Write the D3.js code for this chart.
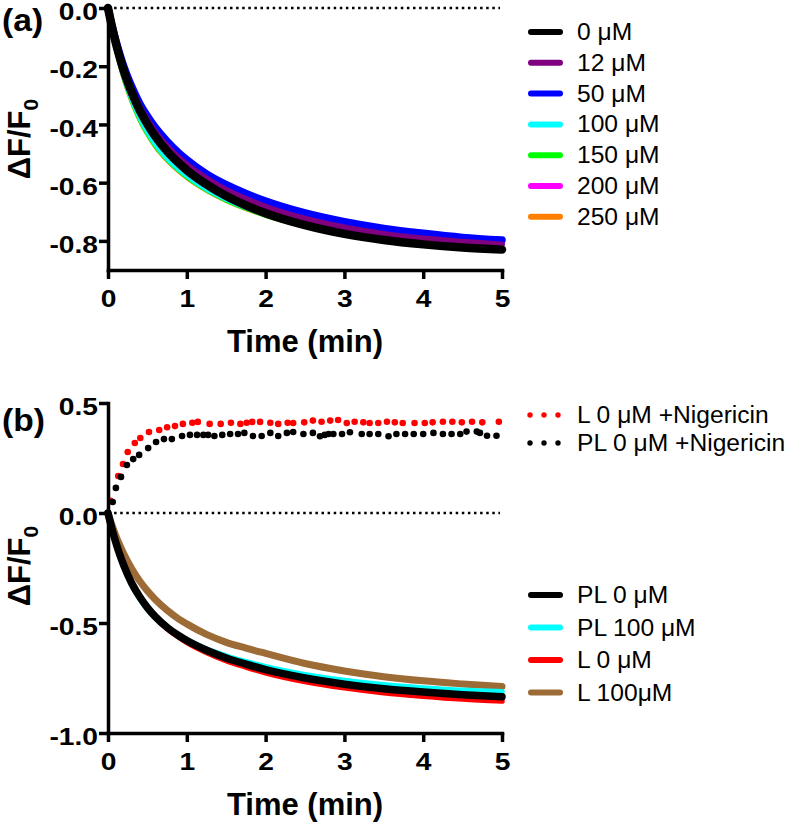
<!DOCTYPE html>
<html>
<head>
<meta charset="utf-8">
<script src="https://cdn.jsdelivr.net/npm/d3@7"></script>
<style>
  html, body { margin: 0; padding: 0; background: #fff; }
  svg { display: block; font-family: "Liberation Sans", Arial, Helvetica, sans-serif; }
</style>
</head>
<body>
<svg id="chart" width="787" height="825"></svg>
<script>
// ---------------- DATA ----------------
const TIME = [0, 0.05, 0.1, 0.15, 0.2, 0.3, 0.4, 0.5, 0.6, 0.75, 0.9, 1.0, 1.25, 1.5, 1.75, 2.0, 2.5, 3.0, 3.5, 4.0, 4.5, 5.0];

// Panel (a)
const a0uM   = [0, -0.064, -0.121, -0.170, -0.215, -0.289, -0.350, -0.399, -0.441, -0.492, -0.533, -0.557, -0.606, -0.646, -0.678, -0.705, -0.746, -0.776, -0.797, -0.812, -0.823, -0.830];
const a12uM  = [0, -0.062, -0.117, -0.164, -0.207, -0.279, -0.338, -0.385, -0.426, -0.475, -0.515, -0.538, -0.586, -0.625, -0.656, -0.683, -0.724, -0.754, -0.776, -0.792, -0.803, -0.812];
const a50uM  = [0, -0.060, -0.112, -0.158, -0.200, -0.269, -0.326, -0.371, -0.410, -0.458, -0.498, -0.521, -0.570, -0.607, -0.637, -0.663, -0.704, -0.734, -0.757, -0.774, -0.788, -0.797];
const a100uM = [0, -0.072, -0.134, -0.187, -0.234, -0.312, -0.375, -0.425, -0.467, -0.516, -0.554, -0.576, -0.622, -0.657, -0.686, -0.710, -0.748, -0.776, -0.795, -0.809, -0.818, -0.824];
const a150uM = [0, -0.073, -0.136, -0.190, -0.238, -0.316, -0.380, -0.430, -0.472, -0.520, -0.558, -0.580, -0.625, -0.660, -0.688, -0.712, -0.749, -0.776, -0.795, -0.809, -0.818, -0.825];
const a200uM = [0, -0.068, -0.128, -0.180, -0.226, -0.302, -0.364, -0.414, -0.456, -0.506, -0.545, -0.568, -0.615, -0.652, -0.682, -0.707, -0.746, -0.775, -0.794, -0.808, -0.817, -0.823];
const a250uM = [0, -0.074, -0.138, -0.192, -0.240, -0.318, -0.382, -0.432, -0.474, -0.522, -0.560, -0.582, -0.626, -0.661, -0.689, -0.712, -0.749, -0.776, -0.795, -0.809, -0.818, -0.824];
const legendA = ["0 μM", "12 μM", "50 μM", "100 μM", "150 μM", "200 μM", "250 μM"];

// Panel (b) lines
const bPL0   = [0, -0.072, -0.135, -0.190, -0.238, -0.318, -0.380, -0.430, -0.471, -0.520, -0.558, -0.580, -0.624, -0.659, -0.687, -0.712, -0.750, -0.778, -0.799, -0.814, -0.826, -0.835];
const bPL100 = [0, -0.075, -0.140, -0.196, -0.245, -0.326, -0.388, -0.437, -0.476, -0.522, -0.557, -0.577, -0.618, -0.650, -0.676, -0.699, -0.735, -0.761, -0.781, -0.795, -0.806, -0.812];
const bL0    = [0, -0.072, -0.135, -0.190, -0.238, -0.319, -0.382, -0.433, -0.475, -0.526, -0.565, -0.588, -0.634, -0.671, -0.700, -0.726, -0.766, -0.795, -0.817, -0.833, -0.846, -0.855];
const bL100  = [0, -0.054, -0.103, -0.146, -0.185, -0.252, -0.308, -0.354, -0.393, -0.442, -0.482, -0.504, -0.552, -0.588, -0.614, -0.638, -0.684, -0.718, -0.744, -0.763, -0.777, -0.789];
const legendBlines = ["PL 0 μM", "PL 100 μM", "L 0 μM", "L 100μM"];

// Panel (b) nigericin points
const nigL0Time = [0.03, 0.13, 0.19, 0.25, 0.34, 0.41, 0.52, 0.65, 0.75, 0.85, 0.95, 1.07, 1.14, 1.29, 1.43, 1.56, 1.68, 1.76, 1.83, 1.93, 2.06, 2.16, 2.28, 2.35, 2.49, 2.60, 2.71, 2.82, 2.92, 3.03, 3.13, 3.24, 3.32, 3.43, 3.54, 3.64, 3.74, 3.89, 4.02, 4.12, 4.25, 4.37, 4.49, 4.62, 4.75, 4.96];
const nigL0Val  = [0.055, 0.168, 0.223, 0.277, 0.318, 0.341, 0.368, 0.377, 0.39, 0.395, 0.405, 0.41, 0.414, 0.405, 0.405, 0.41, 0.405, 0.41, 0.414, 0.414, 0.41, 0.405, 0.41, 0.409, 0.412, 0.42, 0.415, 0.42, 0.423, 0.409, 0.415, 0.412, 0.409, 0.409, 0.415, 0.412, 0.409, 0.409, 0.409, 0.412, 0.415, 0.415, 0.412, 0.415, 0.412, 0.415];
const nigPL0Time = [0.06, 0.10, 0.165, 0.24, 0.32, 0.395, 0.51, 0.61, 0.71, 0.81, 0.94, 1.04, 1.13, 1.21, 1.27, 1.35, 1.45, 1.55, 1.65, 1.73, 1.84, 1.95, 2.06, 2.16, 2.27, 2.35, 2.48, 2.60, 2.69, 2.75, 2.80, 2.86, 2.97, 3.07, 3.22, 3.32, 3.43, 3.56, 3.66, 3.77, 3.88, 4.00, 4.13, 4.25, 4.36, 4.47, 4.55, 4.68, 4.72, 4.81, 4.93];
const nigPL0Val  = [0.05, 0.114, 0.164, 0.218, 0.245, 0.264, 0.295, 0.323, 0.336, 0.336, 0.35, 0.355, 0.355, 0.355, 0.355, 0.35, 0.355, 0.359, 0.359, 0.364, 0.35, 0.35, 0.364, 0.35, 0.364, 0.368, 0.359, 0.364, 0.349, 0.355, 0.359, 0.359, 0.359, 0.367, 0.359, 0.359, 0.359, 0.349, 0.359, 0.359, 0.359, 0.359, 0.364, 0.359, 0.359, 0.359, 0.37, 0.37, 0.364, 0.351, 0.351];
const legendBdots = ["L 0 μM +Nigericin", "PL 0 μM +Nigericin"];

// Axis ticks
const xTicks  = [0, 1, 2, 3, 4, 5];
const yTicksA = [0, -0.2, -0.4, -0.6, -0.8];
const yTicksB = [0.5, 0, -0.5, -1.0];

// ---------------- STYLES ----------------
const colorsA = ["#000000", "#800080", "#0000ff", "#00ffff", "#00ff00", "#ff00ff", "#ff8000"];
const widthsA = [8.5, 6, 7.5, 5, 5, 5, 5];
const colorsBlines = ["#000000", "#00ffff", "#ff0000", "#9d6b35"];
const widthsBlines = [7.5, 5.5, 5.5, 7];
const colorsBdots = ["#ff0000", "#000000"];

// ---------------- DRAW ----------------
const svg = d3.select("#chart");
const x = d3.scaleLinear().domain([0, 5]).range([108, 502]);

function stretch(sel, f) {
  sel.each(function () {
    const L = this.getComputedTextLength();
    this.setAttribute("textLength", L * f);
    this.setAttribute("lengthAdjust", "spacingAndGlyphs");
  });
}

function axes(g, y, yTicks, xAxisY) {
  const yAxis = d3.axisLeft(y).tickValues(yTicks).tickSize(9).tickPadding(1).tickSizeOuter(0)
    .tickFormat(d => d.toFixed(1));
  const gy = g.append("g").attr("transform", "translate(108,0)").call(yAxis);
  const xAxis = d3.axisBottom(x).tickValues(xTicks).tickSize(9).tickPadding(11).tickSizeOuter(0)
    .tickFormat(d => String(d));
  const gx = g.append("g").attr("transform", `translate(0,${xAxisY})`).call(xAxis);
  [gx, gy].forEach(a => {
    a.select(".domain").attr("stroke-width", 3.5).attr("stroke-linecap", "square");
    a.selectAll(".tick line").attr("stroke-width", 3.5);
    a.selectAll(".tick text").attr("font-size", 23.5).attr("font-weight", "bold").attr("fill", "#000")
      .attr("font-family", "'Liberation Sans', Arial, sans-serif");
    stretch(a.selectAll(".tick text"), 1.2);
  });
  gy.selectAll(".tick text").attr("dy", "0.5em");
}

function zeroLine(g, y) {
  g.append("line").attr("x1", x(0)).attr("x2", x(5) - 2).attr("y1", y(0)).attr("y2", y(0))
    .attr("stroke", "#000").attr("stroke-width", 2.5).attr("stroke-dasharray", "2.5,3.6");
}

function titles(g, label, labelY, yMid, xAxisY) {
  g.append("text").attr("x", x(2.5)).attr("y", xAxisY + 82).attr("text-anchor", "middle")
    .attr("font-size", 31).attr("font-weight", "bold").text("Time (min)");
  const t = g.append("text").attr("transform", `translate(30,${yMid}) rotate(-90)`)
    .attr("text-anchor", "middle").attr("font-size", 31).attr("font-weight", "bold");
  t.append("tspan").text("ΔF/F");
  t.append("tspan").attr("font-size", 21).attr("dy", 8).text("0");
  const pl = g.append("text").attr("x", 2).attr("y", labelY).attr("font-size", 32).attr("font-weight", "bold").text(label);
  stretch(pl, 1.05);
}

function legendText(g, xx, yy, lab) {
  const t = g.append("text").attr("x", xx).attr("y", yy).attr("font-size", 23).text(lab);
  stretch(t, 1.07);
}

const line = y => d3.line().x((d, i) => x(TIME[i])).y(d => y(d)).curve(d3.curveMonotoneX);

// ----- Panel (a) -----
const gA = svg.append("g");
const yA = d3.scaleLinear().domain([-0.9, 0]).range([270, 8]);
const seriesA = [a0uM, a12uM, a50uM, a100uM, a150uM, a200uM, a250uM];
zeroLine(gA, yA);
for (let i = seriesA.length - 1; i >= 0; i--) {
  gA.append("path").datum(seriesA[i]).attr("d", line(yA)).attr("fill", "none")
    .attr("stroke", colorsA[i]).attr("stroke-width", widthsA[i]).attr("stroke-linejoin", "round").attr("stroke-linecap", "round");
}
axes(gA, yA, yTicksA, 270);
titles(gA, "(a)", 31, 139, 270);

const legA = gA.append("g");
legendA.forEach((lab, i) => {
  const ly = 32 + i * 30.8;
  legA.append("line").attr("x1", 531).attr("x2", 560).attr("y1", ly).attr("y2", ly)
    .attr("stroke", colorsA[i]).attr("stroke-width", 6).attr("stroke-linecap", "round");
  legendText(legA, 577, ly + 8, lab);
});

// ----- Panel (b) -----
const gB = svg.append("g");
const yB = d3.scaleLinear().domain([-1, 0.5]).range([733, 403]);
zeroLine(gB, yB);
const seriesB = [bPL0, bPL100, bL0, bL100];
for (let i = seriesB.length - 1; i >= 0; i--) {
  gB.append("path").datum(seriesB[i]).attr("d", line(yB)).attr("fill", "none")
    .attr("stroke", colorsBlines[i]).attr("stroke-width", widthsBlines[i]).attr("stroke-linejoin", "round").attr("stroke-linecap", "round");
}
const dotSets = [[nigL0Time, nigL0Val], [nigPL0Time, nigPL0Val]];
dotSets.forEach(([ts, vs], k) => {
  gB.append("g").selectAll("circle").data(vs).join("circle")
    .attr("cx", (d, i) => x(ts[i])).attr("cy", d => yB(d)).attr("r", 3.3).attr("fill", colorsBdots[k]);
});
axes(gB, yB, yTicksB, 733);
titles(gB, "(b)", 431, 566, 733);

const legB = gB.append("g");
legendBdots.forEach((lab, i) => {
  const ly = 415 + i * 28;
  [530, 544, 558].forEach(cx => legB.append("circle").attr("cx", cx).attr("cy", ly).attr("r", 2.7).attr("fill", colorsBdots[i]));
  legendText(legB, 577, ly + 8, lab);
});
legendBlines.forEach((lab, i) => {
  const ly = 595 + i * 32.5;
  legB.append("line").attr("x1", 531).attr("x2", 560).attr("y1", ly).attr("y2", ly)
    .attr("stroke", colorsBlines[i]).attr("stroke-width", 6).attr("stroke-linecap", "round");
  legendText(legB, 577, ly + 8, lab);
});
</script>
</body>
</html>
